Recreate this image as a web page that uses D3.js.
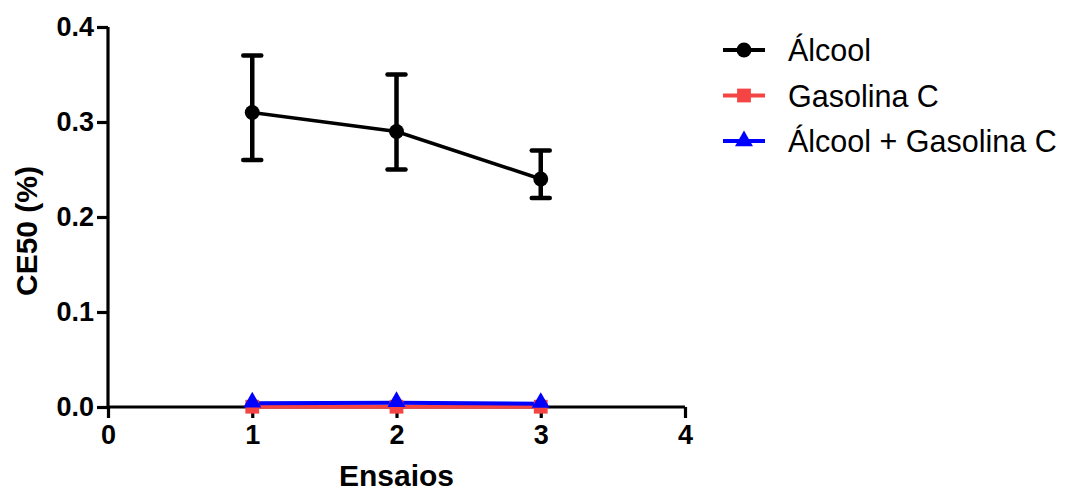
<!DOCTYPE html>
<html>
<head>
<meta charset="utf-8">
<script src="https://cdn.jsdelivr.net/npm/d3@7"></script>
<style>
  body { margin: 0; background: #fff; }
  svg { display: block; }
  text { font-family: "Liberation Sans", Arial, sans-serif; }
</style>
</head>
<body>
<svg id="chart" width="1067" height="491"></svg>
<script>
const ensaios = [1, 2, 3];
const seriesNames = ["Álcool", "Gasolina C", "Álcool + Gasolina C"];
const alcoolMean = [0.31, 0.29, 0.24];
const alcoolUpper = [0.37, 0.35, 0.27];
const alcoolLower = [0.26, 0.25, 0.22];
const gasolinaMean = [0.0003, 0.0003, 0.0003];
const mixMean = [0.004, 0.0045, 0.0035];
const xTicks = [0, 1, 2, 3, 4];
const yTicks = [0.0, 0.1, 0.2, 0.3, 0.4];
const colors = ["#000000", "#f44444", "#0000ff"];

const svg = d3.select("#chart");
const x = d3.scaleLinear().domain([0, 4]).range([108, 685]);
const y = d3.scaleLinear().domain([0, 0.4]).range([407, 27]);

// axes
const yAxis = svg.append("g").attr("transform", "translate(108,0)")
  .call(d3.axisLeft(y).tickValues(yTicks).tickFormat(d3.format(".1f")).tickSize(11).tickPadding(3));
const xAxis = svg.append("g").attr("transform", "translate(0,407)")
  .call(d3.axisBottom(x).tickValues(xTicks).tickFormat(d3.format("d")).tickSize(11).tickPadding(7));
[yAxis, xAxis].forEach(g => {
  g.select(".domain").attr("stroke", "#000").attr("stroke-width", 3.2);
  g.selectAll(".tick line").attr("stroke", "#000").attr("stroke-width", 3.2);
  g.selectAll(".tick text").attr("fill", "#000").attr("font-size", 27).attr("font-weight", "bold")
    .attr("font-family", "'Liberation Sans', Arial, sans-serif");
});
yAxis.select(".domain").attr("d", "M0,27V407");
xAxis.select(".domain").attr("d", "M108,0H685");

// axis titles
svg.append("text").attr("x", x(2)).attr("y", 486).attr("text-anchor", "middle")
  .attr("font-size", 30).attr("font-weight", "bold").text("Ensaios");
svg.append("text").attr("transform", "translate(37,231) rotate(-90)").attr("text-anchor", "middle")
  .attr("font-size", 30).attr("font-weight", "bold").text("CE50 (%)");

const line = d3.line().x((d, i) => x(ensaios[i])).y(d => y(d));

// Álcool error bars
const eb = svg.append("g").attr("stroke", "#000").attr("stroke-width", 4.5);
alcoolMean.forEach((m, i) => {
  const cx = x(ensaios[i]);
  eb.append("line").attr("x1", cx).attr("x2", cx).attr("y1", y(alcoolLower[i])).attr("y2", y(alcoolUpper[i]));
  [alcoolLower[i], alcoolUpper[i]].forEach(v => {
    eb.append("line").attr("x1", cx - 9).attr("x2", cx + 9).attr("y1", y(v)).attr("y2", y(v)).attr("stroke-linecap", "round");
  });
});

// lines
svg.append("path").datum(alcoolMean).attr("d", line).attr("fill", "none").attr("stroke", colors[0]).attr("stroke-width", 3.5);
svg.append("path").datum(gasolinaMean).attr("d", line).attr("fill", "none").attr("stroke", colors[1]).attr("stroke-width", 4);
svg.append("path").datum(mixMean).attr("d", line).attr("fill", "none").attr("stroke", colors[2]).attr("stroke-width", 4);

// markers
const circle = d3.symbol().type(d3.symbolCircle).size(175);
const square = d3.symbol().type(d3.symbolSquare).size(190);
const tri = d3.symbol().type(d3.symbolTriangle).size(140);
alcoolMean.forEach((m, i) => svg.append("path").attr("d", circle).attr("fill", colors[0])
  .attr("transform", `translate(${x(ensaios[i])},${y(m)})`));
gasolinaMean.forEach((m, i) => svg.append("path").attr("d", square).attr("fill", colors[1])
  .attr("transform", `translate(${x(ensaios[i])},${y(m)})`));
mixMean.forEach((m, i) => svg.append("path").attr("d", tri).attr("fill", colors[2])
  .attr("transform", `translate(${x(ensaios[i])},${y(m) - 1})`));

// legend
const symbols = [circle, square, tri];
const leg = svg.append("g");
seriesNames.forEach((name, i) => {
  const cy = 50 + i * 45.5;
  const g = leg.append("g").attr("transform", `translate(0,${cy})`);
  g.append("line").attr("x1", 723).attr("x2", 765).attr("y1", 0).attr("y2", 0)
    .attr("stroke", colors[i]).attr("stroke-width", 4);
  g.append("path").attr("d", symbols[i]).attr("fill", colors[i]).attr("transform", "translate(744,0)");
  g.append("text").attr("x", 788).attr("y", 11).attr("font-size", 30.5).attr("fill", "#000").text(name);
});
</script>
</body>
</html>
